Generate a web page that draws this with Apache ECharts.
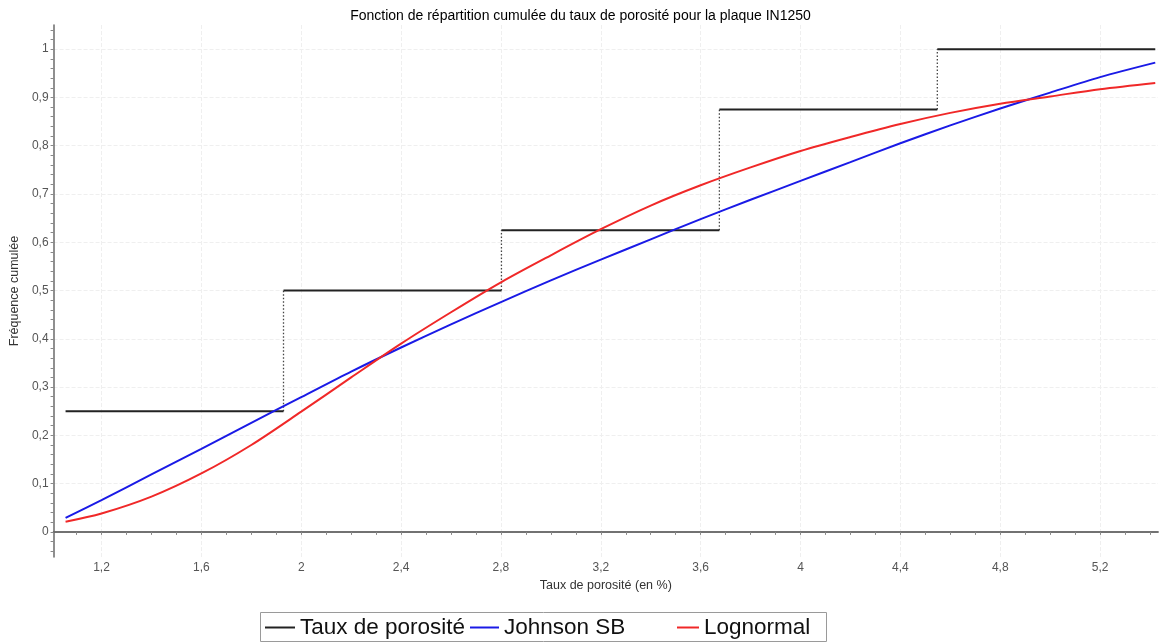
<!DOCTYPE html>
<html>
<head>
<meta charset="utf-8">
<title>Fonction de répartition cumulée</title>
<script src="https://cdn.jsdelivr.net/npm/echarts@6/dist/echarts.min.js"></script>
<style>
  html, body { margin: 0; padding: 0; background: #ffffff; }
  #chart { width: 1161px; height: 644px; }
</style>
</head>
<body>
<div id="chart"></div>
<script>
// Empirical CDF of the porosity rate: class bounds and cumulated frequency per class
const stepX = [1.056, 1.929, 2.802, 3.675, 4.548, 5.421];
const stepY = [0.25, 0.5, 0.625, 0.875, 1.0];

// Fitted distributions, sampled along the porosity axis
const curveX = [1.056, 1.2, 1.4, 1.6, 1.8, 2.0, 2.2, 2.4, 2.6, 2.8, 3.0, 3.2,
                3.4, 3.6, 3.8, 4.0, 4.2, 4.4, 4.6, 4.8, 5.0, 5.2, 5.421];
const johnsonSB = [0.029, 0.066, 0.119, 0.172, 0.226, 0.279, 0.332, 0.382, 0.430, 0.476, 0.521, 0.564,
                   0.606, 0.648, 0.688, 0.727, 0.766, 0.805, 0.842, 0.877, 0.910, 0.942, 0.972];
const lognormal = [0.021, 0.038, 0.073, 0.121, 0.180, 0.249, 0.320, 0.390, 0.455, 0.517, 0.573, 0.627,
                   0.676, 0.718, 0.755, 0.789, 0.818, 0.845, 0.868, 0.887, 0.902, 0.917, 0.930];

// Axis ticks
const xTicks = [1.2, 1.6, 2.0, 2.4, 2.8, 3.2, 3.6, 4.0, 4.4, 4.8, 5.2];
const xMinorTicks = [1.1, 1.2, 1.3, 1.4, 1.5, 1.6, 1.7, 1.8, 1.9, 2.0, 2.1, 2.2, 2.3, 2.4, 2.5, 2.6,
                     2.7, 2.8, 2.9, 3.0, 3.1, 3.2, 3.3, 3.4, 3.5, 3.6, 3.7, 3.8, 3.9, 4.0, 4.1, 4.2,
                     4.3, 4.4, 4.5, 4.6, 4.7, 4.8, 4.9, 5.0, 5.1, 5.2, 5.3, 5.4];
const yTicks = [0, 0.1, 0.2, 0.3, 0.4, 0.5, 0.6, 0.7, 0.8, 0.9, 1];
const yMinorTicks = [-0.04, -0.02, 0, 0.02, 0.04, 0.06, 0.08, 0.1, 0.12, 0.14, 0.16, 0.18, 0.2,
                     0.22, 0.24, 0.26, 0.28, 0.3, 0.32, 0.34, 0.36, 0.38, 0.4, 0.42, 0.44, 0.46,
                     0.48, 0.5, 0.52, 0.54, 0.56, 0.58, 0.6, 0.62, 0.64, 0.66, 0.68, 0.7, 0.72,
                     0.74, 0.76, 0.78, 0.8, 0.82, 0.84, 0.86, 0.88, 0.9, 0.92, 0.94, 0.96, 0.98,
                     1, 1.02, 1.04];

const X_MIN = 1.008, X_MAX = 5.432;
const Y_MIN = -0.052, Y_MAX = 1.05;

// Horizontal plateaus (solid) and the jumps between them (dotted)
const plateaus = [];
const jumps = [];
for (let i = 0; i < stepY.length; i++) {
  plateaus.push([stepX[i], stepY[i]], [stepX[i + 1], stepY[i]]);
  if (i < stepY.length - 1) plateaus.push([stepX[i + 1], '-']);
}
for (let i = 0; i < stepY.length - 1; i++) {
  jumps.push([stepX[i + 1], stepY[i]], [stepX[i + 1], stepY[i + 1]]);
  if (i < stepY.length - 2) jumps.push([stepX[i + 1], '-']);
}

const frNum = v => String(Number(v.toFixed(2))).replace('.', ',');
const FONT = '"Liberation Sans", Arial, sans-serif';
const AXIS_COLOR = '#6a6a6a';
const GRID_LINE = { show: true, lineStyle: { color: '#efefef', width: 1, type: 'dashed' } };

// Legend: one column per entry, inside a common frame
const LEGEND_TOP = 616;
const legendEntry = (name, left, lineWidth) => ({
  left: left,
  top: LEGEND_TOP,
  padding: 0,
  icon: 'rect',
  itemWidth: lineWidth,
  itemHeight: 2,
  textStyle: { fontSize: 22.5, color: '#111', fontFamily: FONT },
  data: [name]
});

const chart = echarts.init(document.getElementById('chart'), null, { renderer: 'canvas' });
chart.setOption({
  animation: false,
  backgroundColor: '#ffffff',
  textStyle: { fontFamily: FONT },
  title: {
    text: 'Fonction de répartition cumulée du taux de porosité pour la plaque IN1250',
    left: 'center',
    top: 4,
    textStyle: { fontSize: 14, fontWeight: 'normal', color: '#000', fontFamily: FONT }
  },
  grid: { left: 53, right: 3, top: 25, bottom: 87, containLabel: false },
  graphic: [{
    type: 'rect',
    shape: { x: 260.5, y: 612.5, width: 566, height: 29 },
    style: { fill: 'none', stroke: '#9a9a9a', lineWidth: 1 },
    silent: true
  }],
  legend: [
    legendEntry('Taux de porosité', 265, 30),
    legendEntry('Johnson SB', 470, 29),
    legendEntry('Lognormal', 677, 22)
  ],
  xAxis: [
    {
      type: 'value',
      position: 'bottom',
      min: X_MIN,
      max: X_MAX,
      name: 'Taux de porosité (en %)',
      nameLocation: 'middle',
      nameGap: 21,
      nameTextStyle: { fontSize: 12.5, color: '#333', fontFamily: FONT },
      axisLine: { show: true, lineStyle: { color: AXIS_COLOR, width: 1.5 } },
      axisTick: { show: true, length: 3, customValues: xMinorTicks, lineStyle: { color: '#888' } },
      axisLabel: { customValues: xTicks, formatter: frNum, fontSize: 12, color: '#555', margin: 5, fontFamily: FONT },
      splitLine: { show: false }
    },
    {
      type: 'value',
      position: 'top',
      min: X_MIN,
      max: X_MAX,
      axisLine: { show: true, lineStyle: { color: AXIS_COLOR, width: 1.5 } },
      axisTick: { show: false, customValues: xTicks },
      axisLabel: { show: false },
      splitLine: GRID_LINE
    }
  ],
  yAxis: [
    {
      type: 'value',
      position: 'left',
      min: Y_MIN,
      max: Y_MAX,
      name: 'Fréquence cumulée',
      nameLocation: 'middle',
      nameGap: 31,
      nameTextStyle: { fontSize: 12.5, color: '#333', fontFamily: FONT },
      axisLine: { show: true, lineStyle: { color: AXIS_COLOR, width: 1.5 } },
      axisTick: { show: true, length: 3, customValues: yMinorTicks, lineStyle: { color: '#888' } },
      axisLabel: { customValues: yTicks, formatter: frNum, fontSize: 12, color: '#555', margin: 5, fontFamily: FONT },
      splitLine: { show: false }
    },
    {
      type: 'value',
      position: 'right',
      min: Y_MIN,
      max: Y_MAX,
      axisLine: { show: false },
      axisTick: { show: false, customValues: yTicks },
      axisLabel: { show: false },
      splitLine: GRID_LINE
    }
  ],
  series: [
    {
      name: 'Taux de porosité',
      type: 'line',
      xAxisIndex: 0,
      yAxisIndex: 0,
      data: plateaus,
      showSymbol: false,
      connectNulls: false,
      color: '#222222',
      lineStyle: { color: '#222222', width: 2 },
      z: 3
    },
    {
      name: 'sauts',
      type: 'line',
      xAxisIndex: 0,
      yAxisIndex: 0,
      data: jumps,
      showSymbol: false,
      connectNulls: false,
      color: '#444444',
      lineStyle: { color: '#444444', width: 1.3, type: [1.5, 2] },
      z: 2
    },
    {
      name: 'Johnson SB',
      type: 'line',
      xAxisIndex: 0,
      yAxisIndex: 0,
      data: curveX.map((x, i) => [x, johnsonSB[i]]),
      showSymbol: false,
      smooth: 0.3,
      color: '#1a1ae6',
      lineStyle: { color: '#1a1ae6', width: 2 },
      z: 4
    },
    {
      name: 'Lognormal',
      type: 'line',
      xAxisIndex: 0,
      yAxisIndex: 0,
      data: curveX.map((x, i) => [x, lognormal[i]]),
      showSymbol: false,
      smooth: 0.3,
      color: '#f02828',
      lineStyle: { color: '#f02828', width: 2 },
      z: 5
    }
  ]
});
</script>
</body>
</html>
